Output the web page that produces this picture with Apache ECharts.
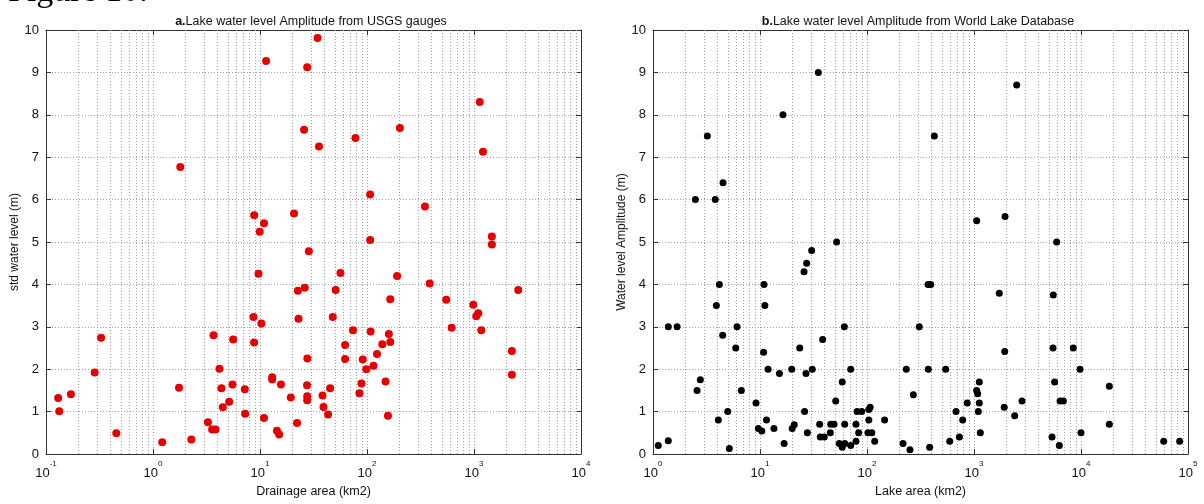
<!DOCTYPE html>
<html>
<head>
<meta charset="utf-8">
<script src="https://cdn.jsdelivr.net/npm/echarts@6/dist/echarts.min.js"></script>
<style>
html,body{margin:0;padding:0;background:#fff;}
#c{width:1204px;height:504px;}
</style>
</head>
<body>
<div id="c"></div>
<script>
// ---- data ----
const figureLabel = "Figure 10.";
const titlePrefixA = "a.";
const titleA = "Lake water level Amplitude from USGS gauges";
const titlePrefixB = "b.";
const titleB = "Lake water level Amplitude from World Lake Database";
const xNameA = "Drainage area (km2)";
const yNameA = "std water level (m)";
const xNameB = "Lake area (km2)";
const yNameB = "Water level Amplitude (m)";

// panel a : drainage area (km2) and std water level (m)
const drainageArea = [
  34.5, 11.4, 27.6, 1132, 25.8, 203, 78, 35.6, 1213, 1.80,
  107, 348, 8.83, 20.8, 10.9, 9.93, 107, 1469, 1469,
  28.6, 9.68, 56.5, 191, 385, 26.2, 22.6, 51, 2590, 165,
  550, 984, 1096, 1050, 8.69, 22.9, 47.9, 10.3, 618, 74,
  108, 1169, 160, 3.68, 0.327, 5.61, 8.81, 165, 139, 62.4,
  2259, 124, 27.7, 62.4, 91.2, 115, 98.6, 4.18, 0.285, 2259,
  13.0, 13.0, 1.75, 4.36, 5.53, 7.21, 15.7, 27.5, 45.2, 88.7,
  149, 84.9, 0.171, 0.130, 0.133, 19.4, 27.6, 27.6, 38.4, 39.2,
  43.3, 5.15, 4.49, 7.26, 157, 10.9, 22.2, 14.4, 15.1, 3.26,
  3.57, 3.84, 0.454, 1.22, 2.28
];
const stdLevel = [
  9.81, 9.27, 9.12, 8.30, 7.65, 7.69, 7.45, 7.25, 7.13, 6.77,
  6.12, 5.84, 5.63, 5.67, 5.44, 5.24, 5.05, 5.13, 4.94,
  4.78, 4.25, 4.27, 4.20, 4.02, 3.92, 3.85, 3.87, 3.87, 3.65,
  3.64, 3.52, 3.32, 3.25, 3.23, 3.19, 3.23, 3.08, 2.98, 2.92,
  2.89, 2.92, 2.83, 2.80, 2.74, 2.70, 2.63, 2.64, 2.59, 2.57,
  2.43, 2.36, 2.25, 2.24, 2.23, 2.08, 2.00, 2.01, 1.92, 1.87,
  1.81, 1.76, 1.56, 1.55, 1.64, 1.53, 1.64, 1.62, 1.55, 1.66,
  1.71, 1.43, 1.41, 1.32, 1.01, 1.33, 1.36, 1.27, 1.38, 1.11,
  0.93, 1.23, 1.10, 0.95, 0.90, 0.85, 0.73, 0.55, 0.46, 0.75,
  0.58, 0.58, 0.49, 0.28, 0.34
];

// panel b : lake area (km2) and water level amplitude (m)
const lakeArea = [
  2.49, 3.22, 3.82, 4.51, 16.4, 35.1, 2506, 426, 1059, 1950, 52, 5930,
  1.12, 1.39, 1.39, 1.68, 2.58, 2.77, 3.91, 4.17, 4.08, 4.48,
  4.99, 5.17, 5.93, 6.1, 6.69, 9.18, 9.64, 10.4, 10.9, 10.8,
  11.1, 11.5, 11.9, 13.5, 15.2, 16.8, 19.8, 20.0, 20.9, 23.5,
  25.8, 27.3, 30.4, 26.1, 26.9, 27.7, 30.8, 36.1, 36.6, 38.5,
  39.9, 45.4, 45.8, 49.2, 51, 55, 58.7, 58.7, 61.4, 61.9,
  62, 70.4, 70.4, 78.9, 78.9, 80.7, 83.6, 89.2, 102, 104,
  104, 107, 111, 118, 146, 217, 233, 252, 271, 308,
  372, 394, 374, 385, 544, 593, 679, 730, 784, 865,
  1059, 1082, 1121, 1097, 1121, 1146, 1723, 1936, 1917, 2399,
  2810, 5360, 5475, 5510, 5670, 6270, 6370, 6840, 8470, 9790,
  10000, 18400, 18400, 59300, 83600
];
const amplitude = [
  6.0, 7.5, 6.0, 6.4, 8.0, 9.0, 8.7, 7.5, 5.5, 5.6, 5.0, 5.0,
  0.20, 0.31, 3.0, 3.0, 1.50, 1.75, 3.5, 4.0, 0.80, 2.8,
  1.0, 0.13, 2.5, 3.0, 1.5, 1.2, 0.60, 0.54, 4.0, 2.4,
  3.5, 0.80, 2.0, 0.60, 1.9, 0.25, 2.0, 0.60, 0.69, 2.5,
  4.3, 4.5, 4.8, 1.0, 1.9, 0.50, 2.0, 0.70, 0.40, 2.7,
  0.40, 0.50, 0.70, 0.70, 1.25, 0.25, 1.70, 0.16, 3.0, 0.70,
  0.25, 0.20, 2.0, 0.70, 0.30, 1.0, 0.50, 1.0, 0.50, 0.80,
  1.05, 1.10, 0.50, 0.30, 0.80, 0.25, 2.0, 0.10, 1.40, 3.0,
  4.0, 4.0, 2.0, 0.16, 2.0, 0.30, 1.0, 0.40, 0.80, 1.20,
  1.50, 1.42, 1.70, 1.0, 1.20, 0.50, 3.79, 2.42, 1.10, 0.90,
  1.25, 0.40, 2.5, 3.75, 1.70, 0.20, 1.25, 1.25, 2.5, 2.0,
  0.50, 1.60, 0.70, 0.30, 0.30
];

// axis ranges
const xRangeA = [0.1, 10000];
const xRangeB = [1, 100000];
const yRange = [0, 10];
const minorMultipliers = [2, 3, 4, 5, 6, 7, 8, 9];

// ---- build ----
const FONT = '"Liberation Sans", Arial, sans-serif';
const GRID_LINE = { color: '#a0a0a0', type: [1, 2], width: 1 };

function pairs(xs, ys) { return xs.map((x, i) => [x, ys[i]]); }

function minorValues(range) {
  const out = [];
  for (let d = range[0]; d < range[1]; d *= 10) {
    minorMultipliers.forEach(m => out.push({ xAxis: +(d * m).toPrecision(6) }));
  }
  return out;
}

function expLabel(v) {
  const e = Math.round(Math.log10(v));
  return '{b|10}{e|' + e + '}';
}

const grids = [
  { left: 46, width: 535, top: 30, height: 424 },
  { left: 653, width: 535, top: 30, height: 424 }
];

function mainX(gi, range, name) {
  return {
    type: 'log', logBase: 10, gridIndex: gi, min: range[0], max: range[1],
    position: 'bottom',
    name: name, nameLocation: 'middle', nameGap: 31,
    nameTextStyle: { fontFamily: FONT, fontSize: 12.5, color: '#111' },
    axisLine: { show: true, onZero: false, lineStyle: { color: '#333', width: 1 } },
    axisTick: { show: true, inside: true, length: 5, lineStyle: { color: '#333' } },
    axisLabel: {
      formatter: expLabel, margin: 6,
      rich: {
        b: { fontFamily: FONT, fontSize: 13, color: '#111', lineHeight: 20, verticalAlign: 'bottom' },
        e: { fontFamily: FONT, fontSize: 8, color: '#111', lineHeight: 20, verticalAlign: 'top' }
      }
    },
    splitLine: { show: true, lineStyle: GRID_LINE }
  };
}
function topX(gi, range) {
  return {
    type: 'log', logBase: 10, gridIndex: gi, min: range[0], max: range[1],
    position: 'top',
    axisLine: { show: true, onZero: false, lineStyle: { color: '#333', width: 1 } },
    axisTick: { show: true, inside: true, length: 5, lineStyle: { color: '#333' } },
    axisLabel: { show: false }, splitLine: { show: false }
  };
}
function mainY(gi, name) {
  return {
    type: 'value', gridIndex: gi, min: yRange[0], max: yRange[1], interval: 1,
    position: 'left',
    name: name, nameLocation: 'middle', nameGap: 18,
    nameTextStyle: { fontFamily: FONT, fontSize: 12, color: '#111' },
    axisLine: { show: true, onZero: false, lineStyle: { color: '#333', width: 1 } },
    axisTick: { show: true, inside: true, length: 5, lineStyle: { color: '#333' } },
    axisLabel: { fontFamily: FONT, fontSize: 13, color: '#111', margin: 7 },
    splitLine: { show: true, lineStyle: GRID_LINE }
  };
}
function rightY(gi) {
  return {
    type: 'value', gridIndex: gi, min: yRange[0], max: yRange[1], interval: 1,
    position: 'right',
    axisLine: { show: true, onZero: false, lineStyle: { color: '#333', width: 1 } },
    axisTick: { show: true, inside: true, length: 5, lineStyle: { color: '#333' } },
    axisLabel: { show: false }, splitLine: { show: false }
  };
}

function minorSeries(axisIdx, range) {
  return {
    type: 'scatter', xAxisIndex: axisIdx, yAxisIndex: axisIdx, data: [], silent: true, z: 1,
    markLine: {
      silent: true, symbol: ['none', 'none'], animation: false,
      label: { show: false },
      lineStyle: GRID_LINE,
      emphasis: { disabled: true },
      data: minorValues(range)
    }
  };
}

const titleRich = {
  p: { fontFamily: FONT, fontSize: 12.5, fontWeight: 'bold', color: '#111' },
  t: { fontFamily: FONT, fontSize: 12.5, fontWeight: 'normal', color: '#111' }
};

const chart = echarts.init(document.getElementById('c'), null, { renderer: 'canvas' });
chart.setOption({
  animation: false,
  backgroundColor: '#fff',
  title: [
    { text: '{p|' + titlePrefixA + '}{t|' + titleA + '}', left: 306, top: 10, textAlign: 'center',
      textStyle: { rich: titleRich } },
    { text: '{p|' + titlePrefixB + '}{t|' + titleB + '}', left: 913, top: 10, textAlign: 'center',
      textStyle: { rich: titleRich } }
  ],
  graphic: [
    { type: 'text', left: 8, top: -25,
      style: { text: figureLabel, fill: '#000', font: '34px "Liberation Serif", "Times New Roman", serif' } }
  ],
  grid: grids,
  xAxis: [mainX(0, xRangeA, xNameA), mainX(1, xRangeB, xNameB), topX(0, xRangeA), topX(1, xRangeB)],
  yAxis: [mainY(0, yNameA), mainY(1, yNameB), rightY(0), rightY(1)],
  series: [
    minorSeries(0, xRangeA),
    minorSeries(1, xRangeB),
    { type: 'scatter', xAxisIndex: 0, yAxisIndex: 0, z: 5, symbol: 'circle', symbolSize: 8,
      itemStyle: { color: '#e60000', opacity: 1 }, data: pairs(drainageArea, stdLevel) },
    { type: 'scatter', xAxisIndex: 1, yAxisIndex: 1, z: 5, symbol: 'circle', symbolSize: 7,
      itemStyle: { color: '#000', opacity: 1 }, data: pairs(lakeArea, amplitude) }
  ]
});
</script>
</body>
</html>
